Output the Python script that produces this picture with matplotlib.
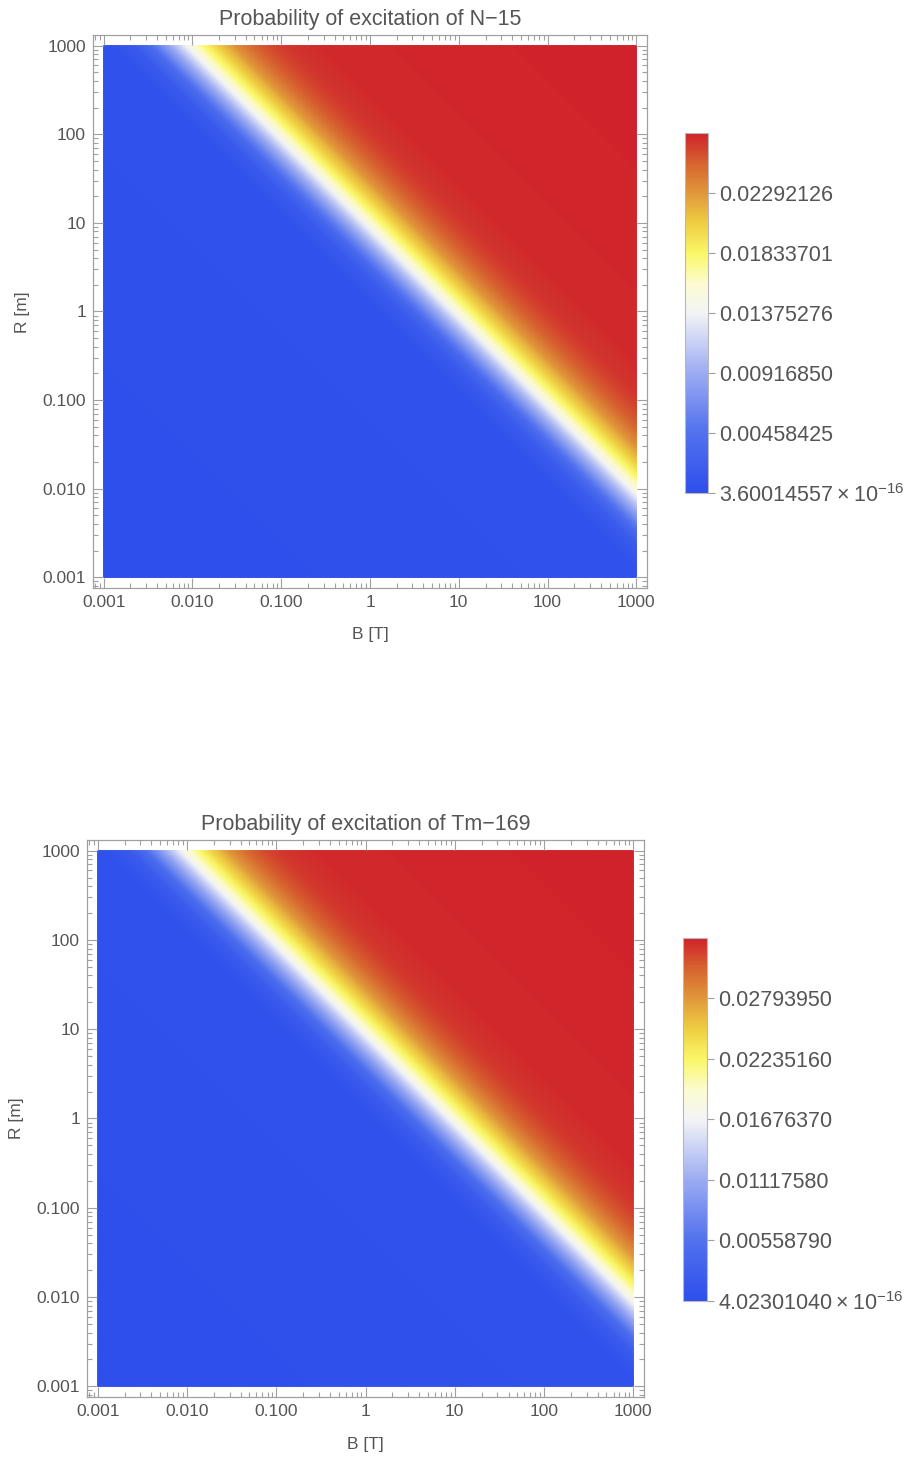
import numpy as np
import matplotlib
matplotlib.use('Agg')
from matplotlib import pyplot as plt
from matplotlib.colors import LinearSegmentedColormap
from matplotlib.ticker import LogLocator, FixedLocator, NullFormatter

plt.rcParams['font.family'] = ['Liberation Sans', 'DejaVu Sans']
plt.rcParams['mathtext.fontset'] = 'custom'
plt.rcParams['mathtext.rm'] = 'Liberation Sans'

# axis decades (B in T, R in m)
tick_vals = [0.001, 0.01, 0.1, 1, 10, 100, 1000]
tick_labels = ['0.001', '0.010', '0.100', '1', '10', '100', '1000']

# probability read along the diagonal, as function of log10(B*R)
log_br = [-6.0, 0.05, 0.36, 0.52, 0.68, 0.83, 0.93, 1.03, 1.13, 1.28, 1.48, 1.68, 1.88, 2.08, 2.48, 6.0]
prob_n15 = [3.60014557e-16, 0.000275, 0.00165, 0.00385, 0.00743, 0.01100, 0.01375, 0.01595,
            0.01788, 0.02035, 0.02310, 0.02503, 0.02613, 0.02682, 0.02723, 0.0275055]
prob_tm169 = [4.02301040e-16, 0.000335, 0.00201, 0.00469, 0.00905, 0.01341, 0.01676, 0.01945,
              0.02179, 0.02481, 0.02816, 0.03051, 0.03185, 0.03269, 0.03319, 0.0335274]

# colour bar ticks
cb_ticks_n15 = [3.60014557e-16, 0.00458425, 0.00916850, 0.01375276, 0.01833701, 0.02292126]
cb_labels_n15 = [r'$\mathregular{3.60014557\times10^{-16}}$', '0.00458425', '0.00916850',
                 '0.01375276', '0.01833701', '0.02292126']
cb_ticks_tm = [4.02301040e-16, 0.00558790, 0.01117580, 0.01676370, 0.02235160, 0.02793950]
cb_labels_tm = [r'$\mathregular{4.02301040\times10^{-16}}$', '0.00558790', '0.01117580',
                '0.01676370', '0.02235160', '0.02793950']

cmap = LinearSegmentedColormap.from_list('temp', [
    (0.0, '#2E4FEB'), (0.17, '#5272EE'), (0.33, '#9AAAF2'), (0.5, '#F3F4F6'),
    (0.58, '#FCFBD2'), (0.667, '#FAF766'), (0.75, '#EFCE42'), (0.83, '#E19A3B'),
    (0.92, '#D6622F'), (1.0, '#D0222B')])

TXT = '#555555'
FRAME = '#A0A0A0'

b = np.logspace(-3, 3, 400)
r = np.logspace(-3, 3, 400)
BB, RR = np.meshgrid(b, r)

fig = plt.figure(figsize=(9.09, 14.59), dpi=100)


def panel(ax_rect, cb_rect, prob, vmax, cb_ticks, cb_labels, title, px_top, px_bottom, px_left, px_mid):
    ax = fig.add_axes(ax_rect)
    z = np.interp(np.log10(BB * RR), log_br, prob)
    m = ax.pcolormesh(BB, RR, z, cmap=cmap, vmin=prob[0], vmax=vmax, shading='gouraud', rasterized=True)
    ax.set_xscale('log')
    ax.set_yscale('log')
    lo, hi = 10 ** -3.12, 10 ** 3.12
    ax.set_xlim(lo, hi)
    ax.set_ylim(lo, hi)
    for a in (ax.xaxis, ax.yaxis):
        a.set_major_locator(FixedLocator(tick_vals))
        a.set_minor_locator(LogLocator(base=10, subs=np.arange(2, 10), numticks=20))
        a.set_minor_formatter(NullFormatter())
    ax.set_xticklabels(tick_labels)
    ax.set_yticklabels(tick_labels)
    ax.tick_params(which='both', direction='in', top=True, right=True, colors=FRAME,
                   labelcolor=TXT, labelsize=12.5, width=0.8)
    ax.tick_params(which='major', length=7, pad=5)
    ax.tick_params(which='minor', length=3.5)
    for s in ax.spines.values():
        s.set_color(FRAME)
        s.set_linewidth(0.9)
    ax.set_title(title, color=TXT, fontsize=15.5, pad=7)
    fig.text(px_mid / 909, 1 - px_bottom / 1459, 'B [T]', color=TXT, fontsize=12.5, ha='center', va='center')
    fig.text(px_left / 909, 1 - px_top / 1459, 'R [m]', color=TXT, fontsize=12.5, ha='center',
             va='center', rotation=90)

    cax = fig.add_axes(cb_rect)
    cb = fig.colorbar(m, cax=cax)
    cb.set_ticks(cb_ticks)
    cb.set_ticklabels(cb_labels)
    cb.outline.set_edgecolor('#B8B8B8')
    cb.outline.set_linewidth(0.8)
    cax.tick_params(direction='out', length=5, width=0.8, colors=FRAME, labelcolor=TXT,
                    labelsize=15.5, pad=3)
    cax.minorticks_off()
    return ax


panel([0.1023, 0.5970, 0.6095, 0.3790], [0.7536, 0.6621, 0.0253, 0.2467],
      prob_n15, 0.0275055, cb_ticks_n15, cb_labels_n15, 'Probability of excitation of N\u221215',
      312, 634, 22, 370)
panel([0.0957, 0.0425, 0.6128, 0.3818], [0.7514, 0.1083, 0.0264, 0.2488],
      prob_tm169, 0.0335274, cb_ticks_tm, cb_labels_tm, 'Probability of excitation of Tm\u2212169',
      1118, 1445, 16, 365)

fig.savefig('out.png', dpi=100)
